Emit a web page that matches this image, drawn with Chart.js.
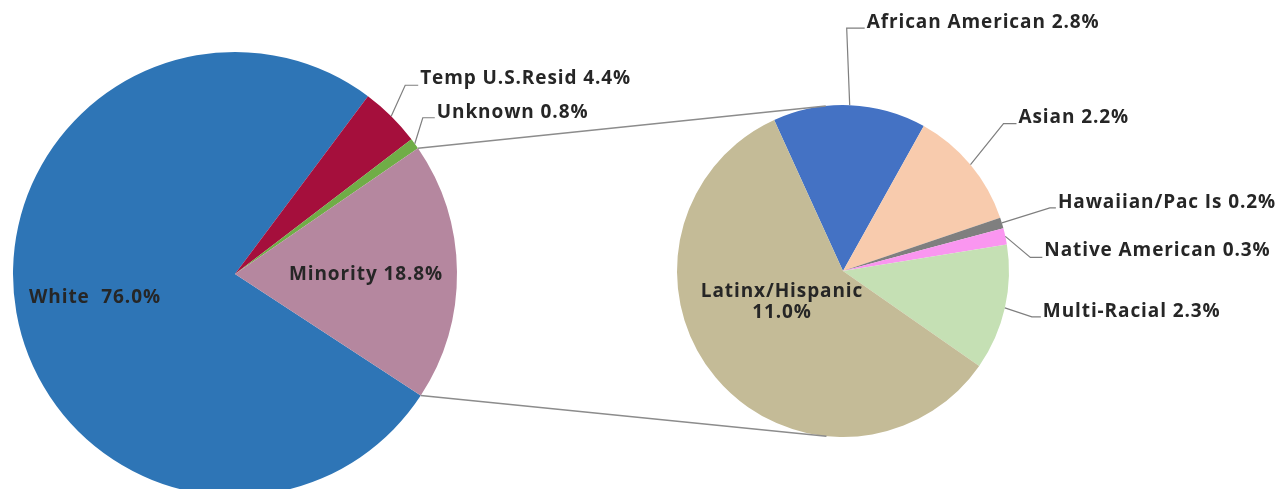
<!DOCTYPE html>
<html><head><meta charset="utf-8">
<script src="https://cdn.jsdelivr.net/npm/chart.js@4/dist/chart.umd.min.js"></script>
<style>
html,body{margin:0;padding:0;background:#fff;overflow:hidden;width:1281px;height:489px}
#wrap{position:relative;width:1281px;height:489px;overflow:hidden}
canvas{position:absolute;left:0;top:0}
</style></head><body>
<div id="wrap">
<canvas id="leftPie" width="1281" height="548"></canvas>
<canvas id="rightPie" width="1281" height="548"></canvas>
</div>
<script>
// ---- data ----
const mainLabels = ['White', 'Temp U.S.Resid', 'Unknown', 'Minority'];
const mainValues = [76.0, 4.4, 0.8, 18.8];
const mainColors = ['#2E75B6', '#A50F3C', '#70AD47', '#B5879F'];

const subLabels = ['African American', 'Asian', 'Hawaiian/Pac Is', 'Native American', 'Multi-Racial', 'Latinx/Hispanic'];
const subValues = [2.8, 2.2, 0.2, 0.3, 2.3, 11.0];
const subColors = ['#4472C4', '#F8CBAD', '#7F7F7F', '#FA96F0', '#C5E0B4', '#C4BB97'];

// ---- label layout (offsets relative to slice geometry) ----
const FONT = 'bold 19px "Open Sans", "Liberation Sans", sans-serif';
const LETTER_SPACING = '0.9px';
const TEXT_COLOR = '#262626';
const LEADER_COLOR = '#7f7f7f';

// type 'in': offset from pie centre; type 'out': elbow offset from slice outer mid-point, run = horizontal segment
const mainLayout = [
  {type:'in', dx:-140, dy:24, sep:'  '},
  {type:'out', ex:14, ey:-31, run:13, ty:-7},
  {type:'out', ex:8, ey:-26, run:12, ty:-5},
  {type:'in', dx:131, dy:1, sep:' '}
];
const subLayout = [
  {type:'out', ex:-3, ey:-77, run:18, ty:-6},
  {type:'out', ex:33, ey:-41, run:13, ty:-6},
  {type:'out', ex:48, ey:-15, run:6, ty:-5},
  {type:'out', ex:25, ey:21, run:12, ty:-7},
  {type:'out', ex:27, ey:9, run:9, ty:-5},
  {type:'in', dx:-61, dy:31, lines:true}
];

function fmt(v){ return v.toFixed(1) + '%'; }

function labelPlugin(labels, values, layout){
  return {
    id: 'sliceLabels',
    afterDatasetsDraw(chart){
      const ctx = chart.ctx;
      const arcs = chart.getDatasetMeta(0).data;
      ctx.save();
      ctx.font = FONT;
      if ('letterSpacing' in ctx) ctx.letterSpacing = LETTER_SPACING;
      ctx.fillStyle = TEXT_COLOR;
      ctx.textBaseline = 'middle';
      arcs.forEach((arc, i) => {
        const L = layout[i];
        const {x, y, startAngle, endAngle, outerRadius} = arc.getProps(['x','y','startAngle','endAngle','outerRadius'], true);
        if (L.type === 'in') {
          ctx.textAlign = 'center';
          if (L.lines) {
            ctx.fillText(labels[i], x + L.dx, y + L.dy - 10);
            ctx.fillText(fmt(values[i]), x + L.dx, y + L.dy + 11);
          } else {
            ctx.fillText(labels[i] + L.sep + fmt(values[i]), x + L.dx, y + L.dy);
          }
        } else {
          const mid = (startAngle + endAngle) / 2;
          const ax = x + outerRadius * Math.cos(mid);
          const ay = y + outerRadius * Math.sin(mid);
          const bx = ax + L.ex, by = ay + L.ey;
          const cx = bx + L.run;
          ctx.strokeStyle = LEADER_COLOR;
          ctx.lineWidth = 1.2;
          ctx.beginPath();
          ctx.moveTo(ax, ay); ctx.lineTo(bx, by); ctx.lineTo(cx, by);
          ctx.stroke();
          ctx.textAlign = 'left';
          ctx.fillText(labels[i] + ' ' + fmt(values[i]), cx + 2, by + L.ty);
        }
      });
      ctx.restore();
    }
  };
}

const leftChart = new Chart(document.getElementById('leftPie'), {
  type: 'pie',
  data: { labels: mainLabels, datasets: [{ data: mainValues, backgroundColor: mainColors, borderWidth: 0, radius: 222 }] },
  options: {
    responsive: false, animation: false, rotation: 123.2,
    layout: { padding: { left: 0, right: 811, top: 0, bottom: 0 } },
    plugins: { legend: {display:false}, tooltip: {enabled:false} }
  },
  plugins: [labelPlugin(mainLabels, mainValues, mainLayout)]
});

const connectorPlugin = {
  id: 'connectors',
  afterDatasetsDraw(chart){
    const minority = leftChart.getDatasetMeta(0).data[3];
    const m = minority.getProps(['x','y','startAngle','endAngle','outerRadius'], true);
    const sub = chart.getDatasetMeta(0).data[0].getProps(['x','y','outerRadius'], true);
    const pts = [m.startAngle, m.endAngle].map(a => ({x: m.x + m.outerRadius*Math.cos(a), y: m.y + m.outerRadius*Math.sin(a)}));
    const ctx = chart.ctx;
    ctx.save();
    ctx.strokeStyle = '#8c8c8c';
    ctx.lineWidth = 1.5;
    pts.forEach((p, k) => {
      const d = Math.hypot(p.x - sub.x, p.y - sub.y);
      const th = Math.atan2(p.y - sub.y, p.x - sub.x);
      const al = Math.acos(sub.outerRadius / d);
      const c1 = {x: sub.x + sub.outerRadius*Math.cos(th+al), y: sub.y + sub.outerRadius*Math.sin(th+al)};
      const c2 = {x: sub.x + sub.outerRadius*Math.cos(th-al), y: sub.y + sub.outerRadius*Math.sin(th-al)};
      const t = k === 0 ? (c1.y < c2.y ? c1 : c2) : (c1.y > c2.y ? c1 : c2);
      ctx.beginPath(); ctx.moveTo(p.x, p.y); ctx.lineTo(t.x, t.y); ctx.stroke();
    });
    ctx.restore();
  }
};

const rightChart = new Chart(document.getElementById('rightPie'), {
  type: 'pie',
  data: { labels: subLabels, datasets: [{ data: subValues, backgroundColor: subColors, borderWidth: 0, radius: 166 }] },
  options: {
    responsive: false, animation: false, rotation: -24.5,
    layout: { padding: { left: 677, right: 272, top: 0, bottom: 6 } },
    plugins: { legend: {display:false}, tooltip: {enabled:false} }
  },
  plugins: [labelPlugin(subLabels, subValues, subLayout), connectorPlugin]
});
</script>
</body></html>
